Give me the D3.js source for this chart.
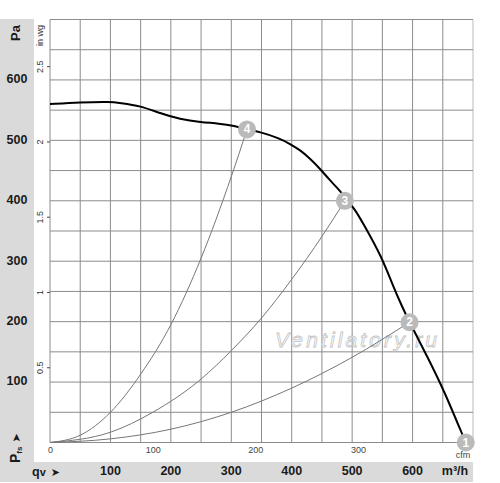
<!DOCTYPE html>
<html lang="en">
<head>
    <meta charset="UTF-8">
    <title>Fan curve</title>
    <script src="https://d3js.org/d3.v7.min.js"></script>
    <style>
        body { margin: 0; background: #fff; }
        text { font-family: "Liberation Sans", Arial, sans-serif; }
    </style>
</head>
<body>
    <div id="chart"></div>

    <script>
        // curva del ventilador (m3/h, Pa)
        var fanFlow = [0, 50, 100, 115, 150, 182, 215, 250, 280, 305, 326, 348, 381, 397, 414, 430, 447, 463, 474, 490, 505, 518, 549, 566, 583, 595, 625, 652, 682, 688];
        var fanPa   = [560, 563, 564, 562, 557, 545, 535, 530, 528, 524, 518, 514, 503, 494, 484, 470, 453, 434, 423, 404, 385, 363, 307, 263, 224, 199, 141, 86, 14, 0];

        // curvas del sistema
        var sys4Flow = [0, 50, 100, 150, 200, 250, 300, 326];
        var sys4Pa   = [0, 12, 50, 113, 195, 305, 440, 518];
        var sys3Flow = [0, 100, 170, 250, 300, 350, 400, 450, 488];
        var sys3Pa   = [0, 17, 50, 105, 152, 206, 270, 341, 400];
        var sys2Flow = [0, 100, 200, 300, 400, 500, 595];
        var sys2Pa   = [0, 6, 22, 50, 90, 141, 199];

        // puntos de trabajo
        var pointLabels = ["1", "2", "3", "4"];
        var pointFlow   = [688, 595, 488, 326];
        var pointPa     = [0, 199, 400, 518];

        // etiquetas de ejes
        var paTicks   = [100, 200, 300, 400, 500, 600];
        var m3hTicks  = [100, 200, 300, 400, 500, 600];
        var cfmTicks  = [0, 100, 200, 300];
        var inwgTicks = [0.5, 1, 1.5, 2, 2.5];

        var width = 500;
        var height = 483;

        var svg = d3.select("#chart")
                    .append("svg")
                    .attr("width", width)
                    .attr("height", height);

        var x = d3.scaleLinear().domain([0, 700]).range([50, 473]);
        var y = d3.scaleLinear().domain([0, 700]).range([442.5, 19.5]);
        var xCfm = d3.scaleLinear().domain([0, 700 / 1.699]).range([50, 473]);
        var yWg = d3.scaleLinear().domain([0, 700 / 249.09]).range([442.5, 19.5]);

        // paneles grises
        svg.append("rect").attr("x", 0).attr("y", 19).attr("width", 34).attr("height", 443).attr("fill", "#dadada");
        svg.append("rect").attr("x", 0).attr("y", 462).attr("width", 473).attr("height", 20).attr("fill", "#dadada");

        // rejilla
        var gridVals = d3.range(0, 701, 50);
        svg.selectAll("line.v")
           .data(gridVals)
           .enter()
           .append("line")
           .attr("x1", function(d) { return x(d); })
           .attr("x2", function(d) { return x(d); })
           .attr("y1", y(700))
           .attr("y2", y(0))
           .attr("stroke", function(d) { return d === 700 ? "#bbb" : "#8c8c8c"; })
           .attr("stroke-width", 1);

        svg.selectAll("line.h")
           .data(gridVals)
           .enter()
           .append("line")
           .attr("x1", x(0))
           .attr("x2", x(700))
           .attr("y1", function(d) { return y(d); })
           .attr("y2", function(d) { return y(d); })
           .attr("stroke", "#8c8c8c")
           .attr("stroke-width", 1);

        // marca de agua
        svg.append("text")
           .attr("x", 275)
           .attr("y", 347)
           .attr("font-size", "21px")
           .attr("font-style", "italic")
           .attr("textLength", 162)
           .attr("fill", "#fff")
           .attr("stroke", "#c4c4c4")
           .attr("stroke-width", 0.8)
           .text("Ventilatory.ru");

        // eje Pa
        svg.selectAll("text.pa")
           .data(paTicks)
           .enter()
           .append("text")
           .attr("x", 17)
           .attr("y", function(d) { return y(d); })
           .attr("text-anchor", "middle")
           .attr("dominant-baseline", "middle")
           .attr("font-size", "12.5px")
           .attr("font-weight", "bold")
           .attr("fill", "#1a1a1a")
           .text(function(d) { return d; });

        svg.append("text")
           .attr("transform", "translate(20,33) rotate(-90)")
           .attr("text-anchor", "middle")
           .attr("font-size", "13px")
           .attr("font-weight", "bold")
           .attr("fill", "#1a1a1a")
           .text("Pa");

        var pfs = svg.append("text")
           .attr("transform", "translate(20,463) rotate(-90)")
           .attr("font-size", "14px")
           .attr("font-weight", "bold")
           .attr("fill", "#1a1a1a");
        pfs.append("tspan").text("P");
        pfs.append("tspan").attr("font-size", "8px").attr("dy", 2).text("fs");
        pfs.append("tspan").attr("font-family", "DejaVu Sans").attr("font-size", "11px").attr("dx", 4).attr("dy", -2).text("\u27A4");

        // eje in wg
        var wgAxis = svg.append("g")
           .attr("transform", "translate(50,0)")
           .call(d3.axisLeft(yWg).tickValues(inwgTicks).tickSize(3).tickFormat(d3.format("")));
        wgAxis.select(".domain").remove();
        wgAxis.selectAll("line").attr("stroke", "#444");
        wgAxis.selectAll("text")
              .attr("x", 0)
              .attr("y", -7)
              .attr("dy", 0)
              .attr("text-anchor", "middle")
              .attr("transform", "rotate(-90)")
              .attr("font-size", "9px")
              .attr("font-family", "Liberation Sans, Arial, sans-serif")
              .attr("fill", "#333");

        svg.append("text")
           .attr("transform", "translate(43,46) rotate(-90)")
           .attr("font-size", "9px")
           .attr("fill", "#333")
           .text("in wg");

        // eje cfm
        var cfmAxis = svg.append("g")
           .attr("transform", "translate(0,442.5)")
           .call(d3.axisBottom(xCfm).tickValues(cfmTicks).tickSize(0).tickPadding(4));
        cfmAxis.select(".domain").remove();
        cfmAxis.selectAll("text")
               .attr("font-size", "9px")
               .attr("font-family", "Liberation Sans, Arial, sans-serif")
               .attr("fill", "#444");

        svg.append("text")
           .attr("x", 463)
           .attr("y", 458)
           .attr("text-anchor", "middle")
           .attr("font-size", "9px")
           .attr("fill", "#444")
           .text("cfm");

        // eje m3/h
        svg.selectAll("text.m3h")
           .data(m3hTicks)
           .enter()
           .append("text")
           .attr("x", function(d) { return x(d); })
           .attr("y", 472)
           .attr("text-anchor", "middle")
           .attr("dominant-baseline", "middle")
           .attr("font-size", "12.5px")
           .attr("font-weight", "bold")
           .attr("fill", "#1a1a1a")
           .text(function(d) { return d; });

        svg.append("text")
           .attr("x", 455)
           .attr("y", 472)
           .attr("text-anchor", "middle")
           .attr("dominant-baseline", "middle")
           .attr("font-size", "12.5px")
           .attr("font-weight", "bold")
           .attr("fill", "#1a1a1a")
           .text("m\u00B3/h");

        var qv = svg.append("text")
           .attr("x", 32)
           .attr("y", 476)
           .attr("font-size", "12.5px")
           .attr("font-weight", "bold")
           .attr("fill", "#1a1a1a");
        qv.append("tspan").text("q");
        qv.append("tspan").attr("font-size", "11px").text("v");
        qv.append("tspan").attr("font-family", "DejaVu Sans").attr("font-size", "11px").attr("dx", 5).text("\u27A4");

        // curvas
        var line = d3.line()
                     .x(function(d) { return x(d[0]); })
                     .y(function(d) { return y(d[1]); })
                     .curve(d3.curveMonotoneX);

        var smooth = d3.line()
                       .x(function(d) { return x(d[0]); })
                       .y(function(d) { return y(d[1]); })
                       .curve(d3.curveBasis);

        var systems = [[sys4Flow, sys4Pa], [sys3Flow, sys3Pa], [sys2Flow, sys2Pa]];
        systems.forEach(function(s) {
            svg.append("path")
               .datum(d3.zip(s[0], s[1]))
               .attr("d", line)
               .attr("fill", "none")
               .attr("stroke", "#777")
               .attr("stroke-width", 1);
        });

        svg.append("path")
           .datum(d3.zip(fanFlow, fanPa))
           .attr("d", smooth)
           .attr("fill", "none")
           .attr("stroke", "#000")
           .attr("stroke-width", 2);

        // puntos numerados
        var pts = svg.selectAll("g.pt")
                     .data(pointLabels)
                     .enter()
                     .append("g")
                     .attr("transform", function(d, i) { return "translate(" + x(pointFlow[i]) + "," + y(pointPa[i]) + ")"; });

        pts.append("circle")
           .attr("r", 9)
           .attr("fill", "#bababa");

        pts.append("text")
           .attr("text-anchor", "middle")
           .attr("dominant-baseline", "central")
           .attr("font-size", "12px")
           .attr("font-weight", "bold")
           .attr("fill", "#fff")
           .text(function(d) { return d; });
    </script>
</body>
</html>
